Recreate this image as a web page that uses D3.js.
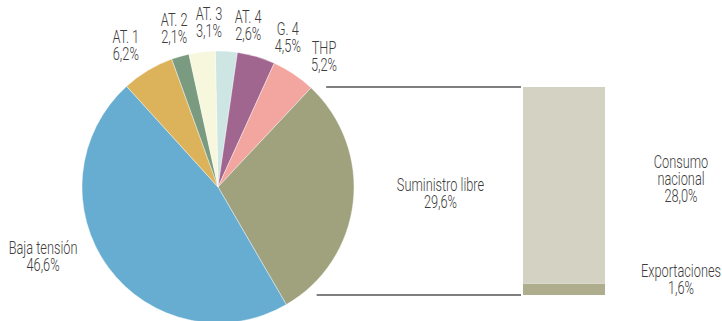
<!DOCTYPE html>
<html>
<head>
<meta charset="utf-8">
<script src="https://cdn.jsdelivr.net/npm/d3@7"></script>
<style>
  body { margin: 0; background: #fff; }
  text { font-family: Roboto, "Noto Sans", sans-serif; font-weight: 300; fill: #3c3c3c; }
</style>
</head>
<body>
<div id="chart"></div>
<script>
// slices, clockwise from 12 o'clock
var categories = ["AT. 4", "G. 4", "THP", "Suministro libre", "Baja tensión", "AT. 1", "AT. 2", "AT. 3"];
var shares = [2.6, 4.5, 5.2, 29.6, 46.6, 6.2, 2.1, 3.1];
var shareLabels = ["2,6%", "4,5%", "5,2%", "29,6%", "46,6%", "6,2%", "2,1%", "3,1%"];

// breakdown of "Suministro libre"
var barParts = ["Exportaciones", "Consumo nacional"];
var barValues = [1.6, 28.0];
var barLabels = ["1,6%", "28,0%"];

var width = 722, height = 321;
var cx = 218, cy = 187, radius = 136;
var fontSize = 17.5, lineH = 17, capH = 12.5, squeeze = 0.73;

var colors = ["#cde5e3", "#a0668f", "#f3a59f", "#a0a27e", "#67acd1", "#dcb35a", "#7b9b80", "#f6f7dc"];

var svg = d3.select("#chart")
  .append("svg")
    .attr("width", width)
    .attr("height", height);

// condensed multi-line label centred on (x, y)
function label(parent, x, y, lines) {
  var y0 = y - (lines.length - 1) * lineH / 2 + capH / 2;
  var t = parent.append("g")
    .attr("transform", "translate(" + x + "," + y0 + ") scale(" + squeeze + ",1)")
    .append("text")
      .attr("text-anchor", "middle")
      .attr("font-size", fontSize);
  lines.forEach(function(s, i) {
    t.append("tspan").attr("x", 0).attr("y", i * lineH).text(s);
  });
}

var data = categories.map(function(c, i) { return { name: c, value: shares[i], label: shareLabels[i], color: colors[i] }; });

var pie = d3.pie()
  .sort(null)
  .value(function(d) { return d.value; })
  .startAngle(-0.02)
  .endAngle(2 * Math.PI - 0.02);

var arc = d3.arc().innerRadius(0).outerRadius(radius);

var arcs = pie(data);

var g = svg.append("g").attr("transform", "translate(" + cx + "," + cy + ")");

g.selectAll("path")
  .data(arcs)
  .enter()
  .append("path")
    .attr("d", arc)
    .attr("fill", function(d) { return d.data.color; })
    .attr("stroke", "#fff")
    .attr("stroke-width", 0.4);

// label placement: nudge angle (deg) and radius for crowded labels
var labelNudge = { "AT. 4": 7, "G. 4": 8.7, "THP": 5.3, "AT. 3": 3.6, "AT. 2": 0.7, "AT. 1": -2, "Baja tensión": 14.7 };
var labelRadius = { "Baja tensión": 188, "AT. 1": 169, "THP": 168 };

arcs.forEach(function(d) {
  if (d.data.name == "Suministro libre") return;
  var a = (d.startAngle + d.endAngle) / 2 + (labelNudge[d.data.name] || 0) * Math.PI / 180;
  var r = labelRadius[d.data.name] || 165;
  label(g, r * Math.sin(a), -r * Math.cos(a), [d.data.name, d.data.label]);
});

// bar with the breakdown of the free supply slice
var libre = arcs[categories.indexOf("Suministro libre")];
var barX = d3.scaleBand().domain(["bar"]).range([523, 605]).padding(0);
var y = d3.scaleLinear()
  .domain([0, d3.sum(barValues)])
  .range([295, 87]);

var stacked = [];
var acc = 0;
barValues.forEach(function(v, i) {
  stacked.push({ name: barParts[i], label: barLabels[i], y0: acc, y1: acc + v });
  acc += v;
});

var barColors = ["#aeae8f", "#d4d3c3"];

svg.selectAll("rect.seg")
  .data(stacked)
  .enter()
  .append("rect")
    .attr("class", "seg")
    .attr("x", barX("bar"))
    .attr("width", barX.bandwidth())
    .attr("y", function(d) { return y(d.y1); })
    .attr("height", function(d) { return y(d.y0) - y(d.y1); })
    .attr("fill", function(d, i) { return barColors[i]; });

// connector lines from the pie slice to the bar
[y(d3.sum(barValues)), y(0)].forEach(function(ly) {
  var dy = ly - cy;
  var dx = Math.sqrt(Math.max(0, radius * radius - dy * dy));
  svg.append("line")
    .attr("x1", cx + dx + 16)
    .attr("x2", barX("bar") - 2)
    .attr("y1", ly)
    .attr("y2", ly)
    .attr("stroke", "#555")
    .attr("stroke-width", 1.5);
});

// Suministro libre label between pie and bar
var midX = (cx + radius + barX("bar")) / 2;
var midY = (y(0) + y(d3.sum(barValues))) / 2;
label(svg, midX + 2, midY + 2, [libre.data.name, libre.data.label]);

// labels of the bar parts
var lx = 681;
var exp = stacked[0], cons = stacked[1];
label(svg, lx, y((cons.y0 + cons.y1) / 2) - 7, ["Consumo", "nacional", cons.label]);
label(svg, lx, y((exp.y0 + exp.y1) / 2) - 10, [exp.name, exp.label]);
</script>
</body>
</html>
